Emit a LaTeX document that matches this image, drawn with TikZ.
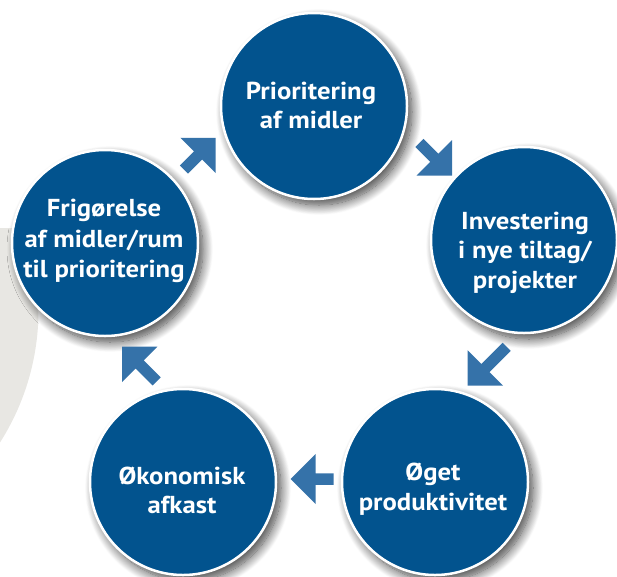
\documentclass[tikz,border=0pt]{standalone}
\usepackage{fontspec}
\setmainfont{PT Sans}[FakeStretch=1.09]
\usetikzlibrary{shadows.blur}
\definecolor{circblue}{RGB}{2,83,142}
\definecolor{arrblue}{RGB}{53,114,169}
\definecolor{bggrey}{RGB}{232,231,227}
\newcommand\blockarrow[3]{\fill[arrblue, shift={#1}, rotate=#2] (0,0) -- (-25,25) -- (-25,5.75) -- ({-25-#3},5.75) -- ({-25-#3},-5.75) -- (-25,-5.75) -- (-25,-25) -- cycle;}
\begin{document}
\begin{tikzpicture}[x=1pt,y=-1pt,
  bubble/.style={circle, fill=circblue, draw=white, line width=2.5pt, minimum size=186pt, inner sep=0pt,
    blur shadow={shadow xshift=5pt, shadow yshift=-6pt, shadow blur radius=10pt, shadow blur steps=16, shadow opacity=75}},
  bubbletext/.style={anchor=base, inner sep=0pt, text=white, font=\bfseries\fontsize{24.5}{29.5}\selectfont}
]
\useasboundingbox (0,0) rectangle (617,576);
\begin{scope}
  \clip (0,228) rectangle (100,576);
  \fill[bggrey] (-208.5,310) circle[radius=247];
\end{scope}
\node[bubble] (c1) at (314,106) {};
\node[bubble] (c2) at (524,240) {};
\node[bubble] (c3) at (435,482) {};
\node[bubble] (c4) at (183,482) {};
\node[bubble] (c5) at (105,243) {};
\blockarrow{(452,175.5)}{-45}{21}
\blockarrow{(467.7,385.7)}{-135}{30}
\blockarrow{(290.6,479)}{180}{18}
\blockarrow{(122,346.7)}{135}{24}
\blockarrow{(215.7,137.8)}{45}{20}
\node[bubbletext] (t1) at (311,99.3) {\begin{tabular}[t]{@{}c@{}}Prioritering\\af midler\end{tabular}};
\node[bubbletext] (t2) at (525,229) {\begin{tabular}[t]{@{}c@{}}Investering\\i nye tiltag/\\projekter\end{tabular}};
\node[bubbletext] (t3) at (433,480.5) {\begin{tabular}[t]{@{}c@{}}Øget\\produktivitet\end{tabular}};
\node[bubbletext] (t4) at (182,484) {\begin{tabular}[t]{@{}c@{}}Økonomisk\\afkast\end{tabular}};
\node[bubbletext, font=\bfseries\fontsize{24.5}{30.5}\selectfont] (t5) at (104,216.7) {\begin{tabular}[t]{@{}c@{}}Frigørelse\\af midler/rum\\til prioritering\end{tabular}};
\end{tikzpicture}
\end{document}
